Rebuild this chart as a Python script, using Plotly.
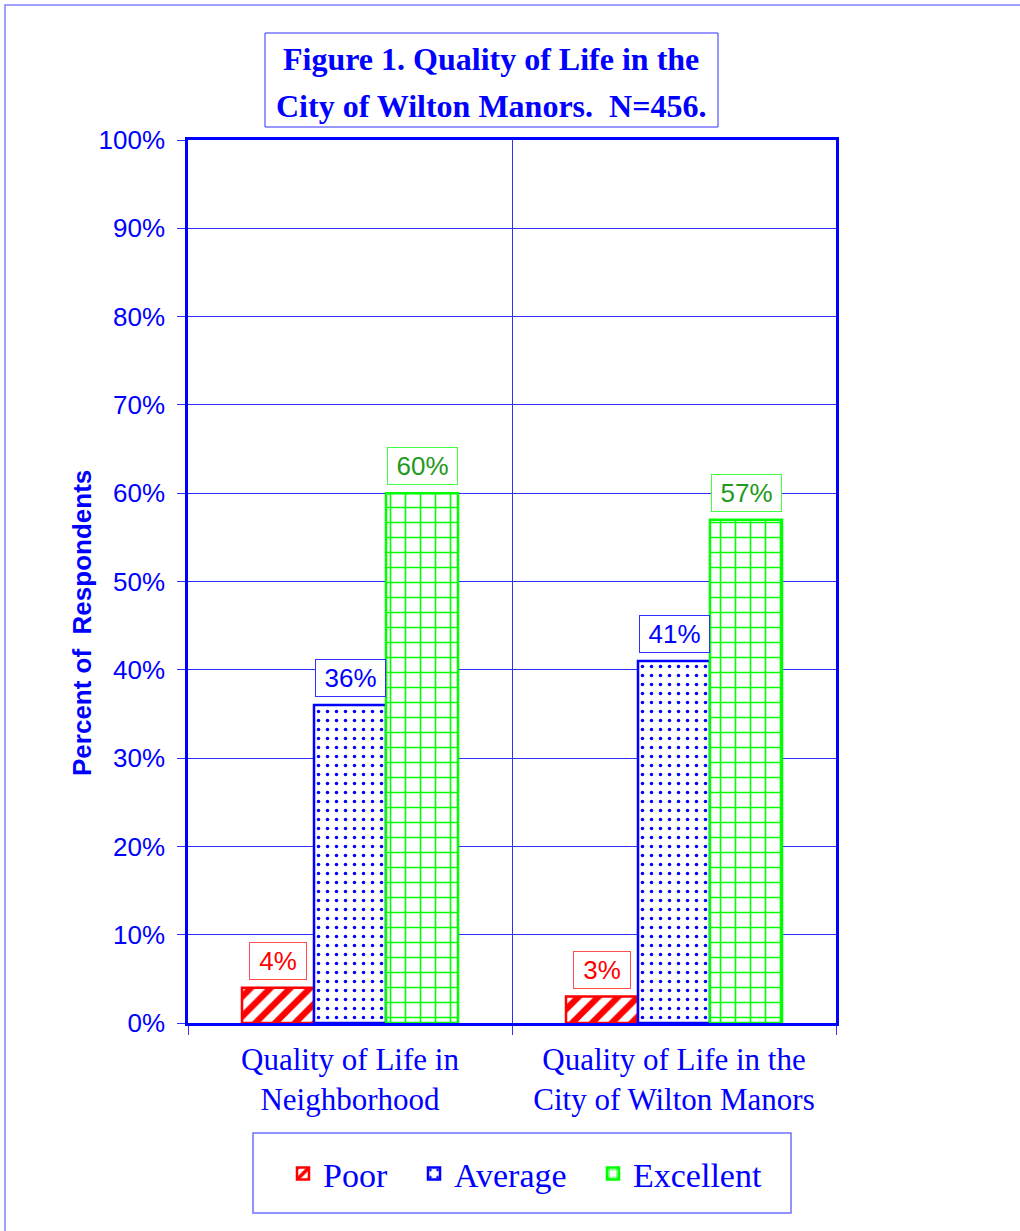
import plotly.graph_objects as go

categories = ["Quality of Life in<br>Neighborhood", "Quality of Life in the<br>City of Wilton Manors"]
series_names = ["Poor", "Average", "Excellent"]
poor = [4, 3]
average = [36, 41]
excellent = [60, 57]
y_ticks = list(range(0, 101, 10))

W, H = 1020, 1231
ML, MR, MT, MB = 188, 184, 140, 208
PW, PH = W - ML - MR, H - MT - MB

def px_x(x):
    return (x - ML) / PW

def px_y(y):
    return (H - MB - y) / PH

SERIF = "Liberation Serif, Times New Roman, serif"
SANS = "Liberation Sans, Arial, sans-serif"
BLUE = "#0000FF"

styles = [
    dict(fg="#FF0000", shape="/", size=14, solidity=0.45, txt="#FF0000", border="#FF5050", leg_x=283),
    dict(fg="#0000FF", shape=".", size=9, solidity=0.12, txt="#0000FF", border="#3030FF", leg_x=414),
    dict(fg="#00FF00", shape="+", size=15, solidity=0.2, txt="#229922", border="#40FF40", leg_x=593),
]
values = [poor, average, excellent]
xs = list(range(len(categories)))
legend_ids = ["legend", "legend2", "legend3"]

fig = go.Figure()
for name, vals, st, lid in zip(series_names, values, styles, legend_ids):
    fig.add_trace(go.Bar(
        x=xs, y=vals, name=name, legend=lid,
        marker=dict(color="white",
                    line=dict(color=st["fg"], width=2.5),
                    pattern=dict(shape=st["shape"], fgcolor=st["fg"], bgcolor="white",
                                 size=st["size"], solidity=st["solidity"], fillmode="replace")),
    ))

bargap = 1 / 3
bw = (1 - bargap) / len(series_names)
annotations = []
for j, (vals, st) in enumerate(zip(values, styles)):
    for i, v in enumerate(vals):
        lab = f"{v}%"
        annotations.append(dict(
            x=i + (j - 1) * bw, y=v, xref="x", yref="y", text=lab, showarrow=False,
            yanchor="bottom", yshift=8, font=dict(family=SANS, size=26, color=st["txt"]),
            bordercolor=st["border"], borderwidth=1, borderpad=0, bgcolor="white",
            width=30 + 13 * len(lab), height=36,
        ))

# title lines
annotations.append(dict(x=px_x(491), y=px_y(59), xref="paper", yref="paper", showarrow=False,
                        text="<b>Figure 1. Quality of Life in the</b>", xanchor="center", yanchor="middle",
                        font=dict(family=SERIF, size=32, color=BLUE)))
annotations.append(dict(x=px_x(491), y=px_y(106), xref="paper", yref="paper", showarrow=False,
                        text="<b>City of Wilton Manors.  N=456.</b>", xanchor="center", yanchor="middle",
                        font=dict(family=SERIF, size=32, color=BLUE)))
# y axis title
annotations.append(dict(x=px_x(82), y=px_y(623), xref="paper", yref="paper", showarrow=False,
                        text="<b>Percent of  Respondents</b>", textangle=-90,
                        xanchor="center", yanchor="middle",
                        font=dict(family=SANS, size=26, color=BLUE)))

shapes = [
    dict(type="rect", xref="paper", yref="paper", x0=px_x(265), x1=px_x(718), y0=px_y(127), y1=px_y(33),
         line=dict(color="#3030FF", width=1), fillcolor="rgba(0,0,0,0)", layer="below"),
    dict(type="rect", xref="paper", yref="paper", x0=px_x(253), x1=px_x(791), y0=px_y(1213), y1=px_y(1133),
         line=dict(color="#7070FF", width=1.5), fillcolor="rgba(0,0,0,0)"),
    dict(type="rect", xref="paper", yref="paper", x0=px_x(5), x1=px_x(1060), y0=px_y(1260), y1=px_y(5),
         line=dict(color="#8080FF", width=1.5), fillcolor="rgba(0,0,0,0)"),
]

legend_common = dict(orientation="h", xanchor="left", y=px_y(1174), yanchor="middle",
                     font=dict(family=SERIF, size=34, color=BLUE), bgcolor="rgba(0,0,0,0)",
                     borderwidth=0)

layout_legends = {}
for st, lid in zip(styles, legend_ids):
    layout_legends[lid] = dict(legend_common, x=px_x(st["leg_x"]))

fig.update_layout(
    width=W, height=H,
    margin=dict(l=ML, r=MR, t=MT, b=MB, pad=0),
    paper_bgcolor="white", plot_bgcolor="white",
    barmode="group", bargap=bargap, bargroupgap=0,
    showlegend=True,
    annotations=annotations,
    shapes=shapes,
    xaxis=dict(range=[-0.5, len(categories) - 0.5], tickmode="array", tickvals=xs, ticktext=categories,
               ticks="", showgrid=False, zeroline=False, ticklabelstandoff=7,
               showline=True, linecolor=BLUE, linewidth=2.5, mirror=True,
               tickfont=dict(family=SERIF, size=31, color=BLUE),
               minor=dict(tickmode="array", tickvals=[x - 0.5 for x in range(len(categories) + 1)],
                          ticks="outside", ticklen=9, tickcolor="#3030FF", tickwidth=1,
                          showgrid=True, gridcolor="#3030FF", gridwidth=1)),
    yaxis=dict(range=[0, 100], tickmode="array", tickvals=y_ticks, ticktext=[f"{t}%" for t in y_ticks],
               ticks="outside", ticklen=8, tickcolor="#3030FF", tickwidth=1, ticklabelstandoff=7,
               showgrid=True, gridcolor="#3030FF", gridwidth=1, zeroline=False,
               showline=True, linecolor=BLUE, linewidth=2.5, mirror=True,
               tickfont=dict(family=SANS, size=26, color=BLUE)),
    **layout_legends,
)

fig.write_html("out.html")
